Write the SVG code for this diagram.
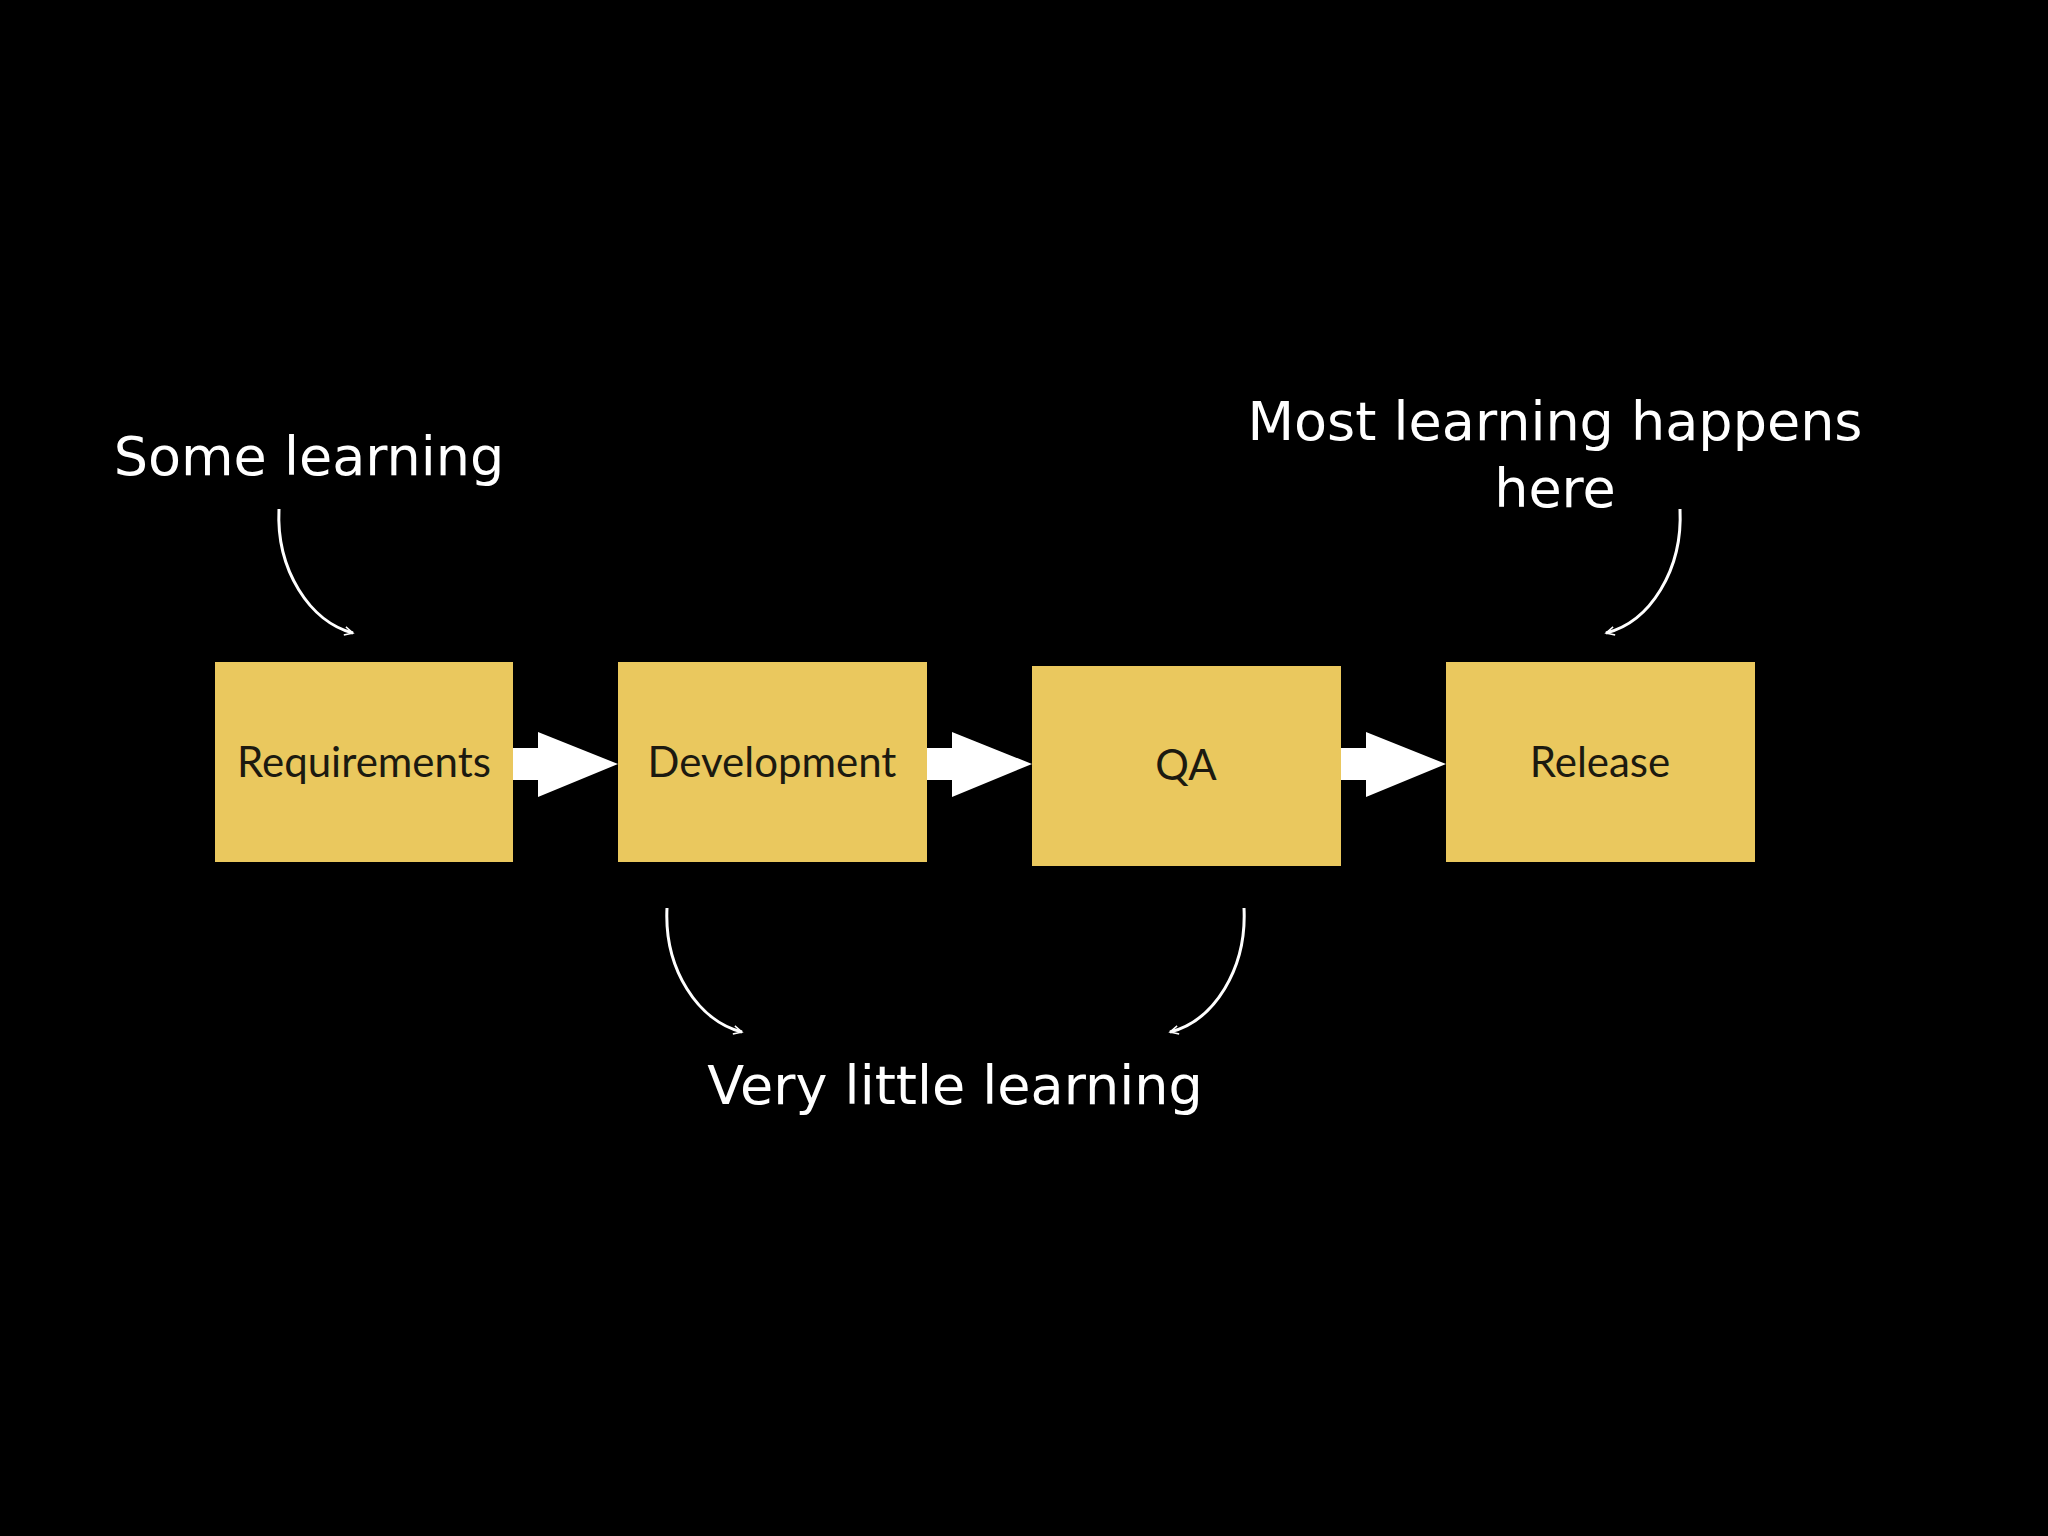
<svg xmlns="http://www.w3.org/2000/svg" width="2048" height="1536" viewBox="0 0 2048 1536">
<defs>
<style>
.box{fill:#eac85e;}
.bl{font-family:Lato,"Open Sans",sans-serif;font-size:42px;fill:#1c1a10;text-anchor:middle;}
.ann{font-family:"DejaVu Sans",sans-serif;font-size:54px;fill:#fff;text-anchor:middle;}
.curve{fill:none;stroke:#fff;stroke-width:3;}
.ba{fill:#fff;}
</style>
<marker id="open" viewBox="0 0 20 20" refX="17" refY="10" markerWidth="12" markerHeight="12" orient="auto" markerUnits="userSpaceOnUse">
<path d="M3,3 L17,10 L3,17" fill="none" stroke="#fff" stroke-width="2.5"/>
</marker>
</defs>
<rect width="2048" height="1536" fill="#000"/>
<g id="requirements"><rect class="box" x="215" y="662" width="298" height="200"/><text class="bl" x="364" y="777">Requirements</text></g>
<g id="development"><rect class="box" x="618" y="662" width="309" height="200"/><text class="bl" x="772" y="777">Development</text></g>
<g id="qa"><rect class="box" x="1032" y="666" width="309" height="200"/><text class="bl" x="1186" y="780">QA</text></g>
<g id="release"><rect class="box" x="1446" y="662" width="309" height="200"/><text class="bl" x="1600" y="777">Release</text></g>
<g id="labels">
<text class="ann" x="309" y="475">Some learning</text>
<text class="ann" x="1555" y="440">Most learning happens</text>
<text class="ann" x="1555" y="507">here</text>
<text class="ann" x="955" y="1104">Very little learning</text>
</g>
<g id="connectors">
<path class="ba" d="M513,748 L538,748 L538,732 L618,764 L538,797 L538,780 L513,780 Z"/>
<path class="ba" d="M927,748 L952,748 L952,732 L1032,764 L952,797 L952,780 L927,780 Z"/>
<path class="ba" d="M1341,748 L1366,748 L1366,732 L1446,764 L1366,797 L1366,780 L1341,780 Z"/>
<path class="curve" marker-end="url(#open)" d="M279,509 C276,570 310,622 353,633"/>
<path class="curve" marker-end="url(#open)" d="M1680,509 C1683,570 1650,622 1606,633"/>
<path class="curve" marker-end="url(#open)" d="M667,908 C664,969 698,1021 742,1032"/>
<path class="curve" marker-end="url(#open)" d="M1244,908 C1247,969 1214,1021 1170,1032"/>
</g>
</svg>
